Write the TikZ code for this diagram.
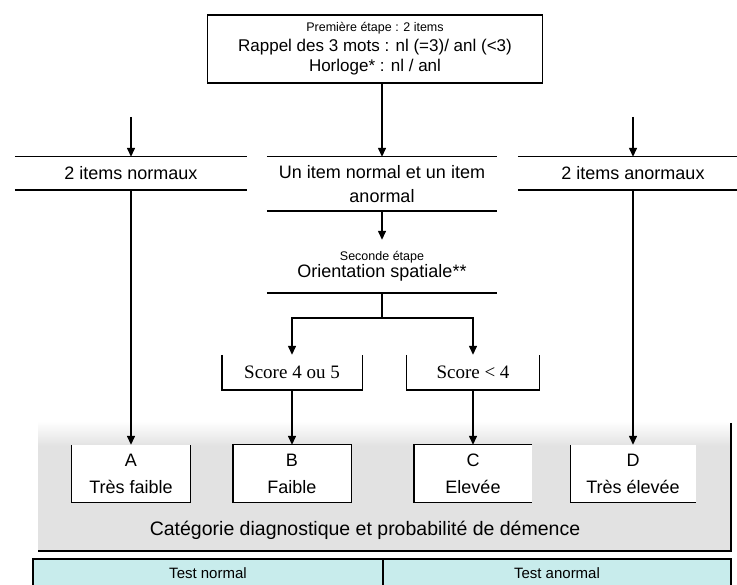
\documentclass[tikz,border=0pt]{standalone}
\usepackage{fontspec}
\setmainfont{Liberation Sans}
\newfontfamily\scorefont{Liberation Serif}
\usetikzlibrary{arrows.meta}
\definecolor{Panneau}{RGB}{226,226,226}
\definecolor{Tableau}{RGB}{200,236,236}

\tikzset{
  trait/.style={line width=1.4pt},
  fleche/.style={line width=1.4pt, -{Triangle[length=9pt,width=8pt]}},
  grand/.style={font=\fontsize{18}{24}\selectfont},
  barre/.style={grand, align=center, inner sep=0pt},
  boite/.style={font=\fontsize{18}{27}\selectfont, align=center, fill=white, inner sep=0pt, minimum width=118pt, minimum height=57pt},
  chiffre/.style={font=\scorefont\fontsize{19}{22}\selectfont, inner sep=0pt, minimum height=35pt}
}

\begin{document}
\begin{tikzpicture}[x=1pt, y=-1pt]
    \useasboundingbox (0,0) rectangle (737,585);

    % Fond gris et tableau du bas
    \shade[top color=white, bottom color=Panneau] (38,421) rectangle (731,446);
    \fill[Panneau] (38,446) rectangle (731,551);
    \draw[line width=2pt] (731,423) -- (731,551) -- (38,551);
    \draw[trait, fill=Tableau] (33,559) rectangle (731,600);
    \draw[trait] (383,559) -- (383,600);

    % Premiere etape
    \node[draw, trait, align=center, inner sep=0pt, minimum width=335pt, minimum height=68pt,
          font=\fontsize{17}{20}\selectfont] (etape1) at (375,49)
        {{\fontsize{12.5}{20}\selectfont Première étape : 2 items}\\Rappel des 3 mots : nl (=3)/ anl (<3)\\Horloge* : nl / anl};

    % Les trois resultats
    \node[barre, minimum width=232pt, minimum height=33pt] (normaux) at (131,173.5) {2 items normaux};
    \node[barre, minimum width=230pt, minimum height=54pt] (mixte) at (382,184) {Un item normal et un item\\anormal};
    \node[barre, minimum width=230pt, minimum height=33pt] (anormaux) at (633,173.5) {2 items anormaux};
    \foreach \n in {normaux, mixte, anormaux} {
        \draw[trait] (\n.north west) -- (\n.north east);
        \draw[trait] (\n.south west) -- (\n.south east);
    }

    \coordinate (gauche) at (131,117);
    \coordinate (droite) at (633,117);
    \draw[fleche] (gauche) -- (normaux.north);
    \draw[fleche] (droite) -- (anormaux.north);
    \draw[fleche] (etape1.south -| mixte.north) -- (mixte.north);

    % Seconde etape
    \node[barre, font=\fontsize{18}{17}\selectfont, minimum width=230pt, minimum height=53pt] (etape2) at (382,266.5)
        {{\fontsize{12.5}{17}\selectfont Seconde étape}\\Orientation spatiale**};
    \draw[trait] (etape2.south west) -- (etape2.south east);
    \draw[fleche] (mixte.south) -- (etape2.north);

    \node[chiffre, minimum width=140pt] (score45) at (292,372.5) {Score 4 ou 5};
    \node[chiffre, minimum width=133pt] (score4) at (473,372.5) {Score < 4};
    \foreach \n in {score45, score4} {
        \draw[trait] (\n.north west) -- (\n.south west) -- (\n.south east) -- (\n.north east);
    }
    \draw[fleche] (etape2.south) -- ++(0,25) -| (score45.north);
    \draw[fleche] (etape2.south) -- ++(0,25) -| (score4.north);

    % Categories A a D
    \node[boite, minimum width=119pt] (A) at (131,473.5) {A\\Très faible};
    \node[boite] (B) at (292,473.5) {B\\Faible};
    \node[boite] (C) at (473,473.5) {C\\Elevée};
    \node[boite, minimum width=125pt] (D) at (633,473.5) {D\\Très élevée};
    \draw[trait] (A.north west) -- (A.south west) -- (A.south east) -- (A.north east);
    \draw[trait] (B.south west) rectangle (B.north east);
    \draw[trait] (C.north east) -- (C.north west) -- (C.south west) -- (C.south east);
    \draw[trait] (D.north west) -- (D.south west) -- (D.south east);

    \draw[fleche] (normaux.south) -- (A.north);
    \draw[fleche] (score45.south) -- (B.north);
    \draw[fleche] (score4.south) -- (C.north);
    \draw[fleche] (anormaux.south) -- (D.north);

    \node[font=\fontsize{19.5}{22}\selectfont] (categorie) at (365,530) {Catégorie diagnostique et probabilité de démence};

    % Tableau
    \node[font=\fontsize{15}{18}\selectfont] (testnormal) at (208,573) {Test normal};
    \node[font=\fontsize{15}{18}\selectfont] (testanormal) at (557,573) {Test anormal};
\end{tikzpicture}
\end{document}
